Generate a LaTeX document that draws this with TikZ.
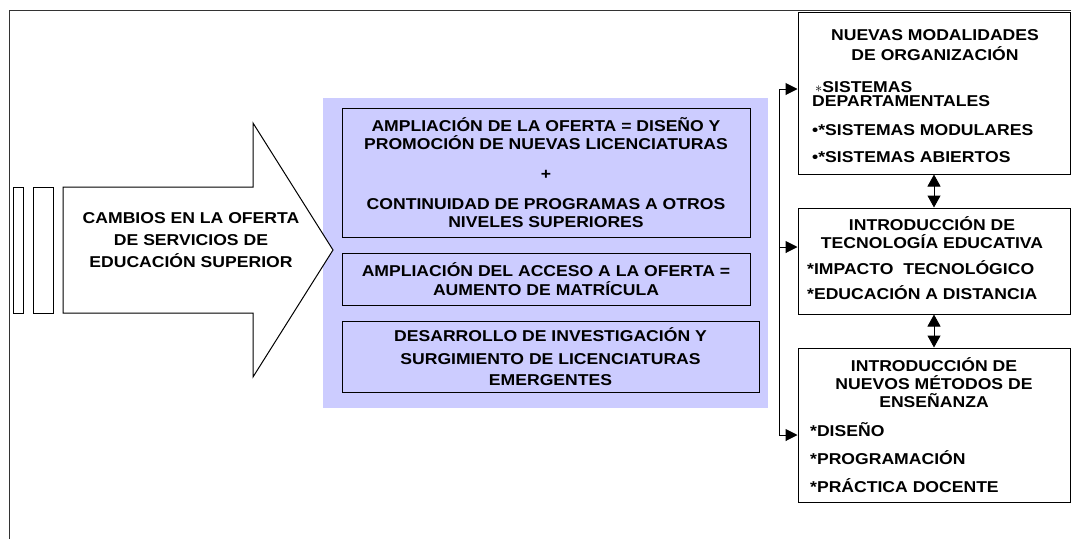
\documentclass[tikz,border=0pt]{standalone}
\usepackage{fontspec}
\setmainfont{Liberation Sans}[FakeStretch=1.12]
\usetikzlibrary{arrows.meta}
\definecolor{lila}{RGB}{204,204,255}
\tikzset{
  caja/.style={draw,line width=1pt,inner sep=0pt},
  txt/.style={font=\bfseries\fontsize{15.7}{18}\selectfont,align=center,inner sep=0pt},
  lista/.style={font=\bfseries\fontsize{15.7}{18}\selectfont,align=left,inner sep=0pt,anchor=west},
  flecha/.style={line width=1pt,-{Triangle[length=12pt,width=12pt]}},
  doble/.style={line width=1pt,{Triangle[length=12pt,width=13pt]}-{Triangle[length=12pt,width=13pt]}},
}
\begin{document}
\begin{tikzpicture}[x=1pt,y=-1pt]
    \useasboundingbox (0,0) rectangle (1071,539);
    \draw[line width=0.8pt,black!80] (9,539) -- (9,10) -- (1071,10);
    \fill[lila] (323,98) rectangle (768,408);
    % flecha grande
    \draw[caja] (13,187) rectangle (23,313);
    \draw[caja] (33,187) rectangle (53,313);
    \draw[caja,fill=white] (63,187) -- (253,187) -- (253,123) -- (333,250) -- (253,377) -- (253,313) -- (63,313) -- cycle;
    \node[txt] (cambios) at (191,240) {CAMBIOS EN LA OFERTA\\[4pt]DE SERVICIOS DE\\[4pt]EDUCACIÓN SUPERIOR};
    % bloque central
    \node[caja,txt,minimum width=408pt,minimum height=129pt] (oferta) at (546,172.5)
        {AMPLIACIÓN DE LA OFERTA = DISEÑO Y\\PROMOCIÓN DE NUEVAS LICENCIATURAS\\[12pt]+\\[12pt]CONTINUIDAD DE PROGRAMAS A OTROS\\NIVELES SUPERIORES};
    \node[caja,txt,minimum width=408pt,minimum height=52pt] (acceso) at (546,279)
        {AMPLIACIÓN DEL ACCESO A LA OFERTA =\\[1pt]AUMENTO DE MATRÍCULA};
    \node[caja,txt,minimum width=417pt,minimum height=71pt] (investiga) at (550.5,356.5)
        {DESARROLLO DE INVESTIGACIÓN Y\\[5pt]SURGIMIENTO DE LICENCIATURAS\\[3pt]EMERGENTES};
    % columna derecha
    \node[caja,minimum width=272pt,minimum height=162pt] (modal) at (934,93) {};
    \node[caja,minimum width=272pt,minimum height=106pt] (tecno) at (934,261) {};
    \node[caja,minimum width=272pt,minimum height=154pt] (metodo) at (934,425) {};
    \node[txt] (modal-t) at (935,45) {NUEVAS MODALIDADES\\[2pt]DE ORGANIZACIÓN};
    \node[lista] (modal-l) at (812,122) {\hspace*{3pt}$\ast$SISTEMAS\\[-4pt]DEPARTAMENTALES\\[11pt]•*SISTEMAS MODULARES\\[9pt]•*SISTEMAS ABIERTOS};
    \node[txt] (tecno-t) at (932,233) {INTRODUCCIÓN DE\\TECNOLOGÍA EDUCATIVA};
    \node[lista] (tecno-l) at (807,280.5) {*IMPACTO\ \ TECNOLÓGICO\\[7pt]*EDUCACIÓN A DISTANCIA};
    \node[txt] (metodo-t) at (934,382.5) {INTRODUCCIÓN DE\\NUEVOS MÉTODOS DE\\ENSEÑANZA};
    \node[lista] (metodo-l) at (810,458) {*DISEÑO\\[10pt]*PROGRAMACIÓN\\[10pt]*PRÁCTICA DOCENTE};
    % conectores
    \coordinate (rA) at (779,89);
    \coordinate (rB) at (779,247);
    \coordinate (rC) at (779,435);
    \draw[line width=1pt] (rA) -- (rC);
    \draw[flecha] (rA) -- (rA -| modal.west);
    \draw[flecha] (rB) -- (rB -| tecno.west);
    \draw[flecha] (rC) -- (rC -| metodo.west);
    \draw[doble] (modal.south) -- (tecno.north);
    \draw[doble] (tecno.south) -- (metodo.north);
\end{tikzpicture}
\end{document}
